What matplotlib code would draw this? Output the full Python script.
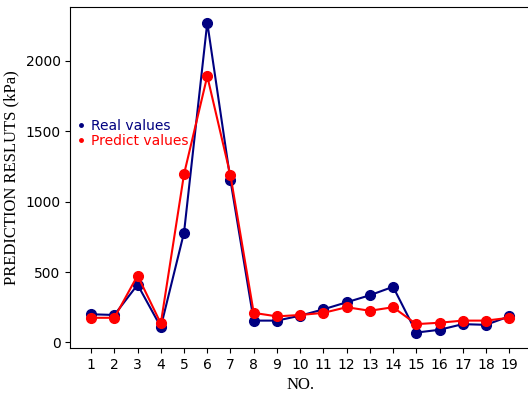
import matplotlib
matplotlib.use('Agg')
import matplotlib.pyplot as plt
from matplotlib.lines import Line2D

samples = list(range(1, 20))
real = [200, 195, 410, 110, 780, 2270, 1150, 155, 155, 190, 235, 285, 335, 395, 70, 90, 130, 125, 185]
predict = [175, 175, 475, 135, 1195, 1890, 1185, 210, 185, 195, 210, 250, 225, 250, 130, 140, 155, 155, 175]
labels = ['Real values', 'Predict values']
colors = ['navy', 'red']

fig = plt.figure(figsize=(5.28, 3.96), dpi=100)
ax = fig.add_axes([0.133, 0.121, 0.871, 0.861])

for vals, c, lab in zip([real, predict], colors, labels):
    ax.plot(samples, vals, color=c, marker='o', markersize=7, linewidth=1.5, label=lab)

ax.set_xticks(samples)
ax.set_xlabel('NO.', family='Liberation Serif', fontsize=12)
ax.set_ylabel('PREDICTION RESLUTS (kPa)', family='Liberation Serif', fontsize=12)

handles = [Line2D([], [], color=c, marker='o', markersize=2.5, linestyle='none') for c in colors]
leg = ax.legend(handles, labels, loc='upper left', bbox_to_anchor=(-0.01, 0.71), frameon=False,
                handlelength=0.4, handletextpad=0.5, labelspacing=0.1, fontsize=10)
for txt, c in zip(leg.get_texts(), colors):
    txt.set_color(c)

fig.savefig('out.png', dpi=100)
